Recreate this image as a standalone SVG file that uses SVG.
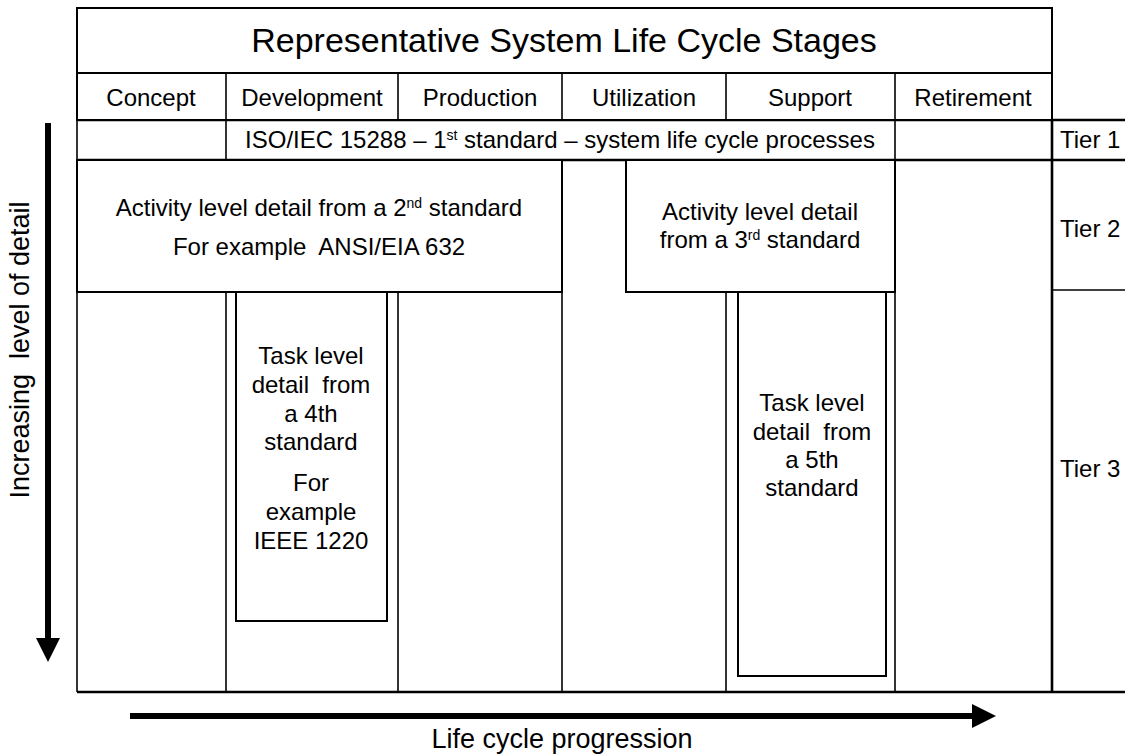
<svg xmlns="http://www.w3.org/2000/svg" width="1125" height="754" viewBox="0 0 1125 754">
<defs>
<style>
.t{font-family:"Liberation Sans",Arial,Helvetica,sans-serif;font-size:24px;fill:#000;text-anchor:middle}
.l{text-anchor:start}
.ttl{font-size:34px}
.ax{font-size:27px}
.sup{font-size:14px}
.bx{fill:#fff;stroke:#000;stroke-width:2}
.ln{stroke:#000;stroke-width:1.6;fill:none}
.hv{stroke:#000;stroke-width:2.6;fill:none}
.arr{stroke:#000;stroke-width:6;fill:none}
</style>
<marker id="ah" markerUnits="userSpaceOnUse" markerWidth="24" markerHeight="24" refX="0" refY="12" orient="auto" viewBox="0 0 24 24">
<path d="M0,0 L24,12 L0,24 Z" fill="#000"/>
</marker>
</defs>
<rect width="1125" height="754" fill="#fff"/>

<g id="frame">
<line class="ln" x1="77" y1="120" x2="77" y2="692"/>
<line class="hv" x1="77" y1="120" x2="1125" y2="120"/>
<line class="hv" x1="77" y1="160" x2="1125" y2="160"/>
<line class="hv" x1="77" y1="692" x2="1125" y2="692"/>
<line class="ln" x1="226" y1="120" x2="226" y2="160"/>
<line class="ln" x1="895" y1="120" x2="895" y2="692"/>
<line class="hv" x1="1052" y1="120" x2="1052" y2="692"/>
<line class="ln" x1="1052" y1="290" x2="1125" y2="290"/>
<line class="ln" x1="226" y1="292" x2="226" y2="692"/>
<line class="ln" x1="398" y1="292" x2="398" y2="692"/>
<line class="ln" x1="562" y1="160" x2="562" y2="692"/>
<line class="ln" x1="726" y1="292" x2="726" y2="692"/>
</g>

<g id="title">
<rect class="bx" x="77" y="8" width="975" height="65"/>
<text class="t ttl" x="564" y="52">Representative System Life Cycle Stages</text>
</g>

<g id="stages">
<rect class="bx" x="77" y="73" width="975" height="47"/>
<line class="ln" x1="226" y1="73" x2="226" y2="120"/>
<line class="ln" x1="398" y1="73" x2="398" y2="120"/>
<line class="ln" x1="562" y1="73" x2="562" y2="120"/>
<line class="ln" x1="726" y1="73" x2="726" y2="120"/>
<line class="ln" x1="895" y1="73" x2="895" y2="120"/>
<text class="t" x="151" y="106">Concept</text>
<text class="t" x="312" y="106">Development</text>
<text class="t" x="480" y="106">Production</text>
<text class="t" x="644" y="106">Utilization</text>
<text class="t" x="810" y="106">Support</text>
<text class="t" x="973" y="106">Retirement</text>
</g>

<g id="iso">
<text class="t" x="560" y="148">ISO/IEC 15288 – 1<tspan class="sup" dy="-8">st</tspan><tspan dy="8"> standard – system life cycle processes</tspan></text>
</g>

<g id="tiers">
<text class="t l" x="1060" y="148">Tier 1</text>
<text class="t l" x="1060" y="237">Tier 2</text>
<text class="t l" x="1060" y="477">Tier 3</text>
</g>

<g id="activity2">
<rect class="bx" x="77" y="160" width="485" height="132"/>
<text class="t" x="319" y="216">Activity level detail from a 2<tspan class="sup" dy="-8">nd</tspan><tspan dy="8"> standard</tspan></text>
<text class="t" x="319" y="255" xml:space="preserve">For example  ANSI/EIA 632</text>
</g>

<g id="activity3">
<rect class="bx" x="626" y="160" width="269" height="132"/>
<text class="t" x="760" y="220">Activity level detail</text>
<text class="t" x="760" y="248">from a 3<tspan class="sup" dy="-8">rd</tspan><tspan dy="8"> standard</tspan></text>
</g>

<g id="task4">
<rect class="bx" x="236" y="292" width="151" height="329"/>
<text class="t" x="311" y="364">Task level</text>
<text class="t" x="311" y="393" xml:space="preserve">detail  from</text>
<text class="t" x="311" y="422">a 4th</text>
<text class="t" x="311" y="450">standard</text>
<text class="t" x="311" y="491">For</text>
<text class="t" x="311" y="520">example</text>
<text class="t" x="311" y="549">IEEE 1220</text>
</g>

<g id="task5">
<rect class="bx" x="738" y="292" width="148" height="384"/>
<text class="t" x="812" y="411">Task level</text>
<text class="t" x="812" y="440" xml:space="preserve">detail  from</text>
<text class="t" x="812" y="468">a 5th</text>
<text class="t" x="812" y="496">standard</text>
</g>

<g id="axis-labels">
<text class="t ax" transform="translate(29,350) rotate(-90)" xml:space="preserve">Increasing  level of detail</text>
<text class="t ax" x="562" y="748">Life cycle progression</text>
</g>

<g id="connectors">
<line class="arr" x1="48" y1="123" x2="48" y2="638" marker-end="url(#ah)"/>
<line class="arr" x1="130" y1="716" x2="972" y2="716" marker-end="url(#ah)"/>
</g>
</svg>
